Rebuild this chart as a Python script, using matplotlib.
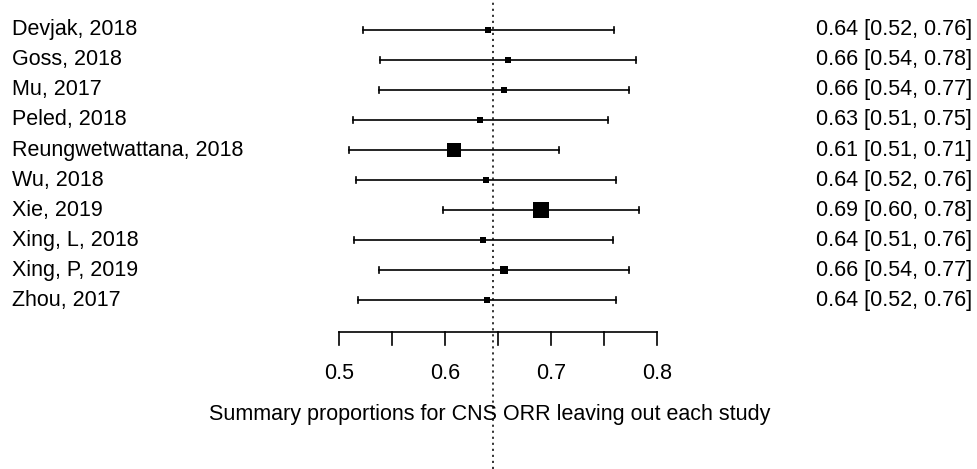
import matplotlib
matplotlib.use("Agg")
import matplotlib.pyplot as plt
import matplotlib.transforms as mtransforms
import numpy as np

studies = ["Devjak, 2018", "Goss, 2018", "Mu, 2017", "Peled, 2018",
           "Reungwetwattana, 2018", "Wu, 2018", "Xie, 2019", "Xing, L, 2018",
           "Xing, P, 2019", "Zhou, 2017"]
est = [0.641, 0.659, 0.6555, 0.6334, 0.6082, 0.6388, 0.6905, 0.6356, 0.6555, 0.640]
lower = [0.5224, 0.5388, 0.5375, 0.5136, 0.5095, 0.5158, 0.5978, 0.5139, 0.5375, 0.5177]
upper = [0.7596, 0.7798, 0.7738, 0.7536, 0.7075, 0.7612, 0.783, 0.7584, 0.7738, 0.7612]
# relative box size (weight)
weights = [6.3, 6.0, 6.7, 6.0, 13.0, 5.0, 15.0, 5.3, 7.0, 6.0]
labels_right = ["0.64 [0.52, 0.76]", "0.66 [0.54, 0.78]", "0.66 [0.54, 0.77]",
                "0.63 [0.51, 0.75]", "0.61 [0.51, 0.71]", "0.64 [0.52, 0.76]",
                "0.69 [0.60, 0.78]", "0.64 [0.51, 0.76]", "0.66 [0.54, 0.77]",
                "0.64 [0.52, 0.76]"]
overall = 0.6454
ticks = [0.5, 0.55, 0.6, 0.65, 0.7, 0.75, 0.8]
tick_labels = ["0.5", "", "0.6", "", "0.7", "", "0.8"]
xlabel = "Summary proportions for CNS ORR leaving out each study"

plt.rcParams['font.family'] = ['Liberation Sans', 'DejaVu Sans']
fs = 15.5

W, H = 977, 469
fig = plt.figure(figsize=(W / 100, H / 100), dpi=100)
ax = fig.add_axes([0, 0, 1, 1])
ax.axis("off")

# pixel mapping: 0.5 -> 339 px, 0.8 -> 657 px; one row = 30 px
ppu = (657 - 339) / 0.3
x0 = 0.5 - 339 / ppu
ax.set_xlim(x0, x0 + W / ppu)
ax.set_ylim(H / 30, 0)

rows = np.arange(1, len(studies) + 1)
side = mtransforms.blended_transform_factory(ax.transAxes, ax.transData)

ax.axvline(overall, color="#333333", lw=1.4, linestyle=(0, (1.1, 2.0)), zorder=1)

for i, r in enumerate(rows):
    ax.plot([lower[i], upper[i]], [r, r], color="black", lw=1.2, zorder=2)
    ax.plot([lower[i], lower[i]], [r - 0.1, r + 0.1], color="black", lw=1.2, zorder=2)
    ax.plot([upper[i], upper[i]], [r - 0.1, r + 0.1], color="black", lw=1.2, zorder=2)
    ax.plot(est[i], r, marker="s", color="black", ms=weights[i] * 0.75,
            mew=0, linestyle="none", zorder=3)
    ax.text(12 / W, r, studies[i], transform=side,
            ha="left", va="center", fontsize=fs)
    ax.text(972 / W, r, labels_right[i], transform=side,
            ha="right", va="center", fontsize=fs)

# axis
axis_y = 332 / 30
tick_len = 13 / 30
ax.plot([ticks[0], ticks[-1]], [axis_y, axis_y], color="black", lw=1.2)
for t, lab in zip(ticks, tick_labels):
    ax.plot([t, t], [axis_y, axis_y + tick_len], color="black", lw=1.2)
    if lab:
        ax.text(t, 373 / 30, lab, ha="center", va="center", fontsize=fs)

ax.text(490 / ppu + x0, 414 / 30, xlabel, ha="center", va="center", fontsize=fs)

fig.savefig("out.png", dpi=100)
